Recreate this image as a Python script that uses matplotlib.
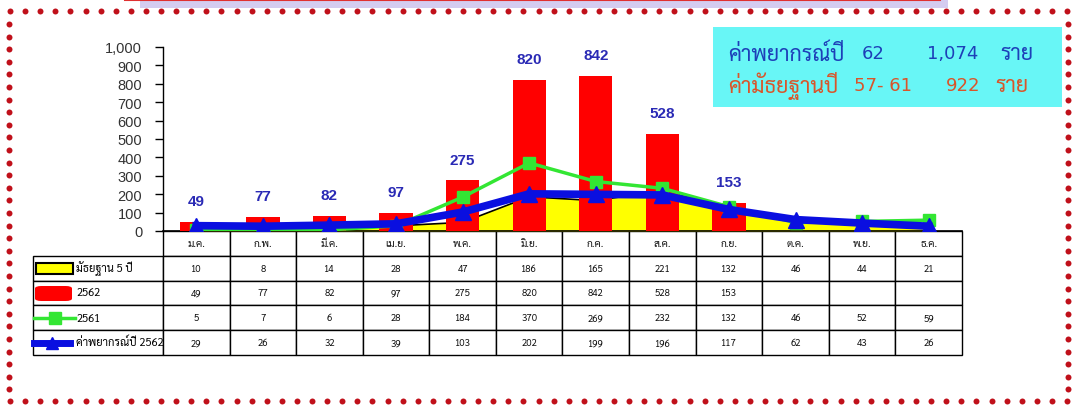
import numpy as np
import matplotlib
matplotlib.use("Agg")
import matplotlib.pyplot as plt
from matplotlib import font_manager
from matplotlib.lines import Line2D
from matplotlib.patches import Rectangle, FancyBboxPatch
from matplotlib.ticker import FuncFormatter

# data
months = ["ม.ค.", "ก.พ.", "มี.ค.", "เม.ย.", "พ.ค.", "มิ.ย.",
          "ก.ค.", "ส.ค.", "ก.ย.", "ต.ค.", "พ.ย.", "ธ.ค."]
median_5y = [10, 8, 14, 28, 47, 186, 165, 221, 132, 46, 44, 21]
cases_2562 = [49, 77, 82, 97, 275, 820, 842, 528, 153]
cases_2561 = [5, 7, 6, 28, 184, 370, 269, 232, 132, 46, 52, 59]
forecast_2562 = [29, 26, 32, 39, 103, 202, 199, 196, 117, 62, 43, 26]
series_labels = ["มัธยฐาน 5 ปี", "2562", "2561", "ค่าพยากรณ์ปี 2562"]
y_ticks = list(range(0, 1001, 100))

# thai font
names = {f.name for f in font_manager.fontManager.ttflist}
thai = next(
    (n for n in ["Sarabun", "Noto Sans Thai Looped", "Noto Sans Thai", "Niramit", "Trirong"]
     if n in names),
    "DejaVu Sans"
)
THAI = [thai, "DejaVu Sans"]
BOX = ["DejaVu Sans", thai]

W, H = 1076, 410
fig = plt.figure(figsize=(W / 100, H / 100), dpi=100)
fig.patch.set_facecolor("white")


def fx(x):
    return x / W


def fy(y):
    return 1 - y / H


ax = fig.add_axes([fx(163), fy(232), (962 - 163) / W, (232 - 48) / H])
ax.set_facecolor("none")

x = np.arange(len(months))

ax.fill_between(x, median_5y, color="#ffff00", zorder=1)
ax.plot(x, median_5y, color="black", lw=1.2, zorder=2)
ax.bar(x[:len(cases_2562)], cases_2562, width=0.5, color="#ff0000", zorder=3)
ax.plot(x, cases_2561, color="#33e633", lw=2.5, marker="s", ms=9, zorder=4)
ax.plot(x, forecast_2562, color="#0a0fe0", lw=5.5, marker="^", ms=11, zorder=5)

for i, v in enumerate(cases_2562):
    ax.annotate(
        f"{v}", (i, v),
        xytext=(0, 15), textcoords="offset points",
        ha="center", va="center",
        fontsize=11, fontweight="bold", color="#2a2ab5",
        family="Liberation Sans"
    )

ax.set_xlim(-0.5, 11.5)
ax.set_ylim(0, 1000)
ax.set_xticks([])
ax.set_yticks(y_ticks)
ax.yaxis.set_major_formatter(FuncFormatter(lambda v, p: f"{v:,.0f}"))
ax.tick_params(axis="y", length=6, width=1, pad=9, labelsize=10.5,
               labelcolor="#333333")
for lbl in ax.get_yticklabels():
    lbl.set_family("Liberation Sans")
for side in ["top", "right"]:
    ax.spines[side].set_visible(False)
ax.spines["left"].set_linewidth(1)
ax.spines["bottom"].set_linewidth(1.2)

# table
rows = [
    [""] + [str(v) for v in median_5y],
    [""] + [str(v) for v in cases_2562] + [""] * (len(months) - len(cases_2562)),
    [""] + [str(v) for v in cases_2561],
    [""] + [str(v) for v in forecast_2562],
]
col_w = [130] + [799 / 12] * 12
tab = ax.table(
    cellText=rows,
    colLabels=[""] + months,
    colWidths=[w / sum(col_w) for w in col_w],
    cellLoc="center",
    bbox=[(33 - 163) / 799, -(356 - 232) / 184, 929 / 799, 124 / 184]
)
tab.auto_set_font_size(False)
tab.set_fontsize(7)
for (r, c), cell in tab.get_celld().items():
    cell.set_linewidth(1.0)
    cell.set_edgecolor("black")
    cell.get_text().set_family(THAI)
    cell.get_text().set_color("#111111")
    if r == 0:
        cell.get_text().set_fontsize(7.5)
tab[0, 0].set_visible(False)

# legend swatches in first column
row_y = [269, 294, 319, 343.5]
fig.add_artist(Rectangle((fx(36), fy(275)), fx(73) - fx(36), fy(264) - fy(275),
                         transform=fig.transFigure, facecolor="#ffff00",
                         edgecolor="black", lw=1.5))
fig.add_artist(FancyBboxPatch((fx(35), fy(302)), fx(72) - fx(35), fy(287) - fy(302),
                              boxstyle="round,pad=0,rounding_size=0.006",
                              transform=fig.transFigure, facecolor="#ff0000",
                              edgecolor="none"))
fig.add_artist(Line2D([fx(34), fx(75)], [fy(row_y[2])] * 2, transform=fig.transFigure,
                      color="#33e633", lw=2.5))
fig.add_artist(Line2D([fx(55)], [fy(row_y[2])], transform=fig.transFigure,
                      color="#33e633", marker="s", ms=8))
fig.add_artist(Line2D([fx(34), fx(70)], [fy(row_y[3])] * 2, transform=fig.transFigure,
                      color="#0a0fe0", lw=5))
fig.add_artist(Line2D([fx(52)], [fy(row_y[3])], transform=fig.transFigure,
                      color="#0a0fe0", marker="^", ms=8))
for yy, lab in zip(row_y, series_labels):
    fig.text(fx(76), fy(yy), lab, ha="left", va="center", fontsize=8,
             family=THAI, color="black")

# info box
fig.add_artist(Rectangle((fx(713), fy(108)), fx(1062) - fx(713), fy(28) - fy(108),
                         transform=fig.transFigure, facecolor="#68f6f6",
                         edgecolor="none"))
line1 = [(728, "ค่าพยากรณ์ปี", 15.5), (862, "62", 13), (927, "1,074", 13),
         (1000, "ราย", 15.5)]
line2 = [(728, "ค่ามัธยฐานปี", 15.5), (854, "57- 61", 13), (946, "922", 13),
         (995, "ราย", 15.5)]
for xp, t, fs in line1:
    fig.text(fx(xp), fy(54), t, ha="left", va="center", fontsize=fs,
             family=BOX, color="#1d3fb8")
for xp, t, fs in line2:
    fig.text(fx(xp), fy(86), t, ha="left", va="center", fontsize=fs,
             family=BOX, color="#d9552a")

# top strip of header box
fig.add_artist(Rectangle((fx(140), fy(9)), fx(948) - fx(140), fy(0) - fy(9),
                         transform=fig.transFigure, facecolor="#d4ccf0",
                         edgecolor="none"))
fig.add_artist(Line2D([fx(125), fx(940)], [fy(1), fy(1)], transform=fig.transFigure,
                      color="#e03030", lw=1.5))

# dotted border
dot = dict(transform=fig.transFigure, ls="none", marker="o", ms=4.3,
           color="#c0101a", mec="none")
top_x = np.arange(10, 1070, 15.1)
side_y = np.arange(25, 400, 12.6)
fig.add_artist(Line2D(fx(top_x), fy(np.full_like(top_x, 12)), **dot))
fig.add_artist(Line2D(fx(top_x), fy(np.full_like(top_x, 402)), **dot))
fig.add_artist(Line2D(fx(np.full_like(side_y, 9)), fy(side_y), **dot))
fig.add_artist(Line2D(fx(np.full_like(side_y, 1068)), fy(side_y), **dot))

fig.savefig("out.png", dpi=100)
